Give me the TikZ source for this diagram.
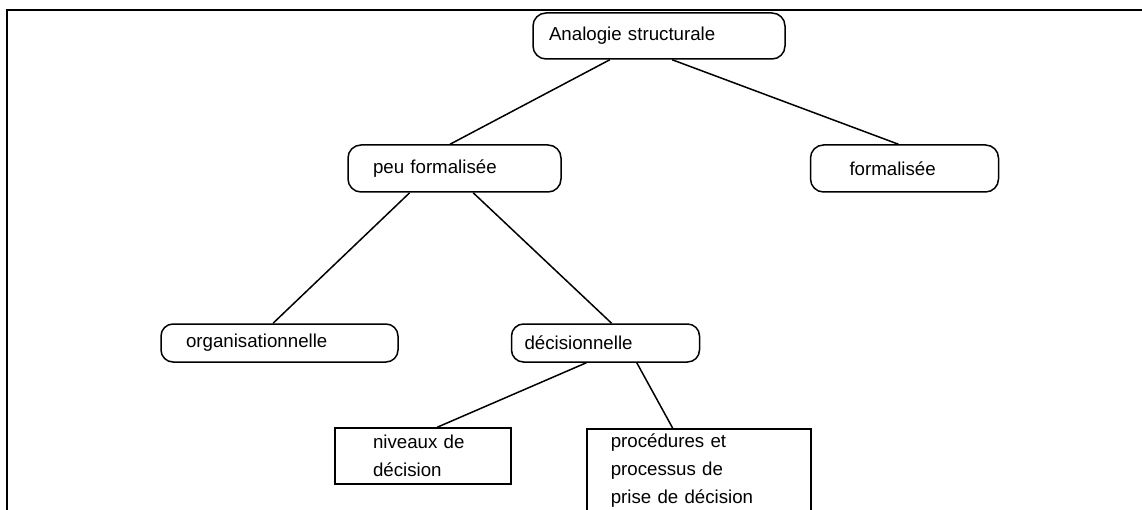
\documentclass[tikz,border=0pt]{standalone}
\usepackage{fontspec}
\setmainfont{Liberation Sans}
\usepackage{tikz}
\usetikzlibrary{positioning,calc}

\begin{document}
\begin{tikzpicture}[
  font=\fontsize{18.7pt}{28pt}\selectfont,
  rbox/.style={draw,line width=1.5pt,rounded corners=13pt,align=left,inner ysep=3pt},
  sbox/.style={draw,line width=1.5pt,align=left,inner ysep=3pt},
  lnk/.style={line width=1.5pt}
]
\useasboundingbox (0,0) rectangle (1142pt,-510pt);
\draw[line width=2.4pt] (1142pt,-10pt) -- (7pt,-10pt) -- (7pt,-512pt);
\node[rbox,inner xsep=16pt,text width=220pt,minimum height=46pt] (anal) at (659pt,-36pt)
  {Analogie structurale};
\node[rbox,inner xsep=25pt,text width=163pt,minimum height=47pt] (peu) at (454.5pt,-168.5pt)
  {peu formalisée};
\node[rbox,inner xsep=39pt,text width=110pt,minimum height=47pt,right=248pt of peu] (form)
  {formalisée};
\node[rbox,rounded corners=12pt,inner xsep=25pt,text width=187pt,minimum height=38pt] (org) at (279.5pt,-343pt)
  {organisationnelle};
\node[rbox,rounded corners=12pt,inner xsep=13pt,text width=162pt,minimum height=38pt,right=112pt of org] (dec)
  {décisionnelle};
\node[sbox,inner xsep=38pt,text width=100pt,minimum height=56pt] (niv) at (423pt,-456pt)
  {niveaux de\\décision};
\node[sbox,inner xsep=24pt,text width=176pt,minimum height=84pt,anchor=north west] (proc) at (586pt,-428pt)
  {procédures et\\processus de\\prise de décision};
\draw[lnk] ($(anal.south west)!0.306!(anal.south east)$)--($(peu.north west)!0.479!(peu.north east)$);
\draw[lnk] ($(anal.south west)!0.552!(anal.south east)$)--($(form.north west)!0.468!(form.north east)$);
\draw[lnk] ($(peu.south west)!0.291!(peu.south east)$)--($(org.north west)!0.473!(org.north east)$);
\draw[lnk] ($(peu.south west)!0.587!(peu.south east)$)--($(dec.north west)!0.532!(dec.north east)$);
\draw[lnk] ($(dec.south west)!0.399!(dec.south east)$)--($(niv.north west)!0.58!(niv.north east)$);
\draw[lnk] ($(dec.south west)!0.665!(dec.south east)$)--($(proc.north west)!0.384!(proc.north east)$);
\end{tikzpicture}
\end{document}
